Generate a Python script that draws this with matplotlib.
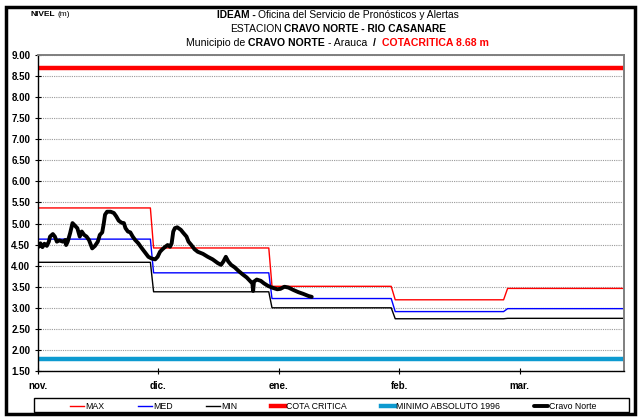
"""
Nivel del rio Casanare en la estacion Cravo Norte, con los niveles
maximo, medio y minimo mensuales, la cota critica y el minimo de 1996.
"""
import matplotlib
matplotlib.use("Agg")
import matplotlib.pyplot as plt
from matplotlib.patches import Rectangle

NARROW = ["Liberation Sans Narrow", "Liberation Sans", "DejaVu Sans"]
WIDE = ["Liberation Sans", "DejaVu Sans"]

# eje x en dias desde el 1 de noviembre (30 dias por mes en el eje)
X_END = 146
month_ticks = [0, 30, 60, 90, 120]
month_labels = ["nov.", "dic.", "ene.", "feb.", "mar."]

# cambios de nivel mensual (inicio y fin de cada escalon)
step_from = [28.0, 57.5, 88.0, 116.0]
step_to = [28.8, 58.3, 89.0, 117.0]
max_levels = [5.37, 4.42, 3.51, 3.19, 3.46]
med_levels = [4.63, 3.83, 3.22, 2.91, 2.98]
min_levels = [4.08, 3.38, 3.00, 2.74, 2.75]

COTA_CRITICA = 8.68
MINIMO_1996 = 1.78

# nivel observado Cravo Norte
obs_days = [0.2, 0.6, 1.1, 1.6, 2.2, 2.7, 3.0, 3.7, 4.2, 4.7, 5.3, 6.2, 6.8,
            7.0, 7.4, 8.0, 8.6, 9.3, 9.8, 10.4, 10.9, 11.5, 12.1, 12.7, 13.5,
            14.2, 14.9, 15.4, 16.0, 16.4, 16.7, 17.2, 18.1, 18.9, 19.5, 20.1,
            20.8, 21.4, 21.8, 22.4, 23.0, 23.6, 24.2, 25.0, 25.9, 26.7, 27.5,
            28.3, 29.2, 29.8, 30.4, 31.0, 31.6, 32.3, 32.9, 33.3, 33.7, 34.1,
            34.7, 35.6, 36.1, 37.0, 37.5, 38.2, 39.0, 39.8, 41.1, 42.3, 43.5,
            44.8, 45.6, 46.2, 46.8, 47.4, 48.1, 49.0, 49.9, 50.9, 52.0, 52.8,
            53.4, 53.6, 53.8, 54.5, 55.5, 56.3, 57.3, 58.3, 59.6, 60.4, 61.4,
            62.4, 63.7, 64.9, 66.1, 67.4, 68.2]
obs_levels = [4.45, 4.53, 4.44, 4.52, 4.47, 4.57, 4.69, 4.75, 4.69, 4.57,
              4.60, 4.57, 4.61, 4.49, 4.57, 4.77, 5.01, 4.94, 4.89, 4.69,
              4.81, 4.73, 4.69, 4.61, 4.41, 4.47, 4.57, 4.73, 4.79, 5.01,
              5.21, 5.28, 5.28, 5.25, 5.17, 5.07, 5.02, 5.01, 4.89, 4.81,
              4.79, 4.69, 4.61, 4.53, 4.41, 4.31, 4.21, 4.17, 4.15, 4.21,
              4.33, 4.39, 4.44, 4.49, 4.45, 4.53, 4.81, 4.89, 4.91, 4.85,
              4.79, 4.69, 4.57, 4.49, 4.39, 4.33, 4.28, 4.21, 4.15, 4.06,
              4.02, 4.10, 4.21, 4.10, 4.02, 3.96, 3.88, 3.80, 3.72, 3.64,
              3.58, 3.40, 3.62, 3.67, 3.64, 3.58, 3.52, 3.48, 3.44, 3.45,
              3.50, 3.48, 3.42, 3.37, 3.33, 3.28, 3.26]


def step_path(levels):
    xs, ys = [0], [levels[0]]
    for i, (a, b) in enumerate(zip(step_from, step_to)):
        xs += [a, b]
        ys += [levels[i], levels[i + 1]]
    xs.append(X_END)
    ys.append(levels[-1])
    return xs, ys


def draw_runs(fig, runs, xc, y, size):
    """Texto centrado compuesto por tramos con distinto peso/color."""
    renderer = fig.canvas.get_renderer()
    items, total = [], 0
    for s, weight, color, gap in runs:
        t = fig.text(0, y, s, fontsize=size, fontweight=weight, color=color,
                     family=NARROW, va="center", ha="left",
                     transform=None)
        w = t.get_window_extent(renderer).width
        total += gap
        items.append((t, total))
        total += w
    x0 = xc - total / 2
    for t, off in items:
        t.set_position((x0 + off, y))


fig = plt.figure(figsize=(6.39, 4.17), dpi=100)
H = 417
ax = fig.add_axes([38 / 639, 1 - 371 / H, 586 / 639, 316 / H])

xs, ys = step_path(max_levels)
h_max, = ax.plot(xs, ys, color="#FF0000", lw=1.0, label="MAX")
xs, ys = step_path(med_levels)
h_med, = ax.plot(xs, ys, color="#0000FF", lw=1.0, label="MED")
xs, ys = step_path(min_levels)
h_min, = ax.plot(xs, ys, color="black", lw=1.0, label="MIN")
h_cota = ax.axhline(COTA_CRITICA, color="#FF0000", lw=3.2,
                    label="COTA CRITICA")
h_min96 = ax.axhline(MINIMO_1996, color="#0D9AD0", lw=3.2,
                     label="MINIMO ABSOLUTO 1996")
h_obs, = ax.plot(obs_days, obs_levels, color="black", lw=2.8,
                 solid_joinstyle="round", solid_capstyle="round",
                 label="Cravo Norte")

ax.set_xlim(0, X_END)
ax.set_ylim(1.5, 9.0)
ax.set_yticks([1.5 + 0.5 * i for i in range(16)])
ax.set_yticklabels([f"{1.5 + 0.5 * i:.2f}" for i in range(16)])
ax.set_xticks(month_ticks)
ax.set_xticklabels(month_labels)
for lab in ax.get_yticklabels() + ax.get_xticklabels():
    lab.set_fontfamily(WIDE)
    lab.set_fontweight("bold")
    lab.set_fontsize(7)
ax.tick_params(axis="y", direction="inout", length=5, width=0.8, pad=3)
ax.tick_params(axis="x", direction="inout", length=4, width=0.8, pad=5)
ax.grid(axis="y", color="#9A9A9A", lw=0.8, ls=(0, (1, 1)))
ax.set_axisbelow(True)
for side in ("top", "right"):
    ax.spines[side].set_color("#7F7F7F")
    ax.spines[side].set_linewidth(1.4)
for side in ("left", "bottom"):
    ax.spines[side].set_color("black")
    ax.spines[side].set_linewidth(1.0)

# cabecera
draw_runs(fig, [("NIVEL", "bold", "black", 0), ("(m)", "normal", "black", 2)],
          50, H - 15, 6)
draw_runs(fig, [("IDEAM -", "bold", "black", 0),
                ("Oficina del Servicio de Pronósticos y Alertas", "normal",
                 "black", 3)], 338, H - 14.5, 7.4)
draw_runs(fig, [("ESTACION", "normal", "black", 0),
                ("CRAVO NORTE - RIO CASANARE", "bold", "black", 2)],
          338, H - 29, 7.4)
draw_runs(fig, [("Municipio de", "normal", "black", 0),
                ("CRAVO NORTE", "bold", "black", 3),
                ("- Arauca", "normal", "black", 3),
                ("/", "bold", "black", 6),
                ("COTACRITICA 8.68 m", "bold", "#FF0000", 6)],
          337, H - 43.5, 7.6)

# leyenda
fig.legend(handles=[h_max, h_med, h_min, h_cota, h_min96, h_obs],
           loc="lower left", bbox_to_anchor=(70 / 639, 1 - 411 / H,
                                             526 / 639, 12 / H),
           mode="expand", ncol=6, frameon=False, borderpad=0,
           borderaxespad=0, handlelength=1.6, handletextpad=0.1,
           prop={"family": NARROW, "size": 6.3})
fig.patches.append(Rectangle((34 / 639, 1 - 412 / H), 595 / 639, 14 / H,
                             transform=fig.transFigure, fill=False,
                             ec="black", lw=1.0))
# marco exterior
fig.patches.append(Rectangle((6 / 639, 1 - 414 / H), 629 / 639, 407 / H,
                             transform=fig.transFigure, fill=False,
                             ec="black", lw=2.5))

fig.savefig("out.png", dpi=100)
